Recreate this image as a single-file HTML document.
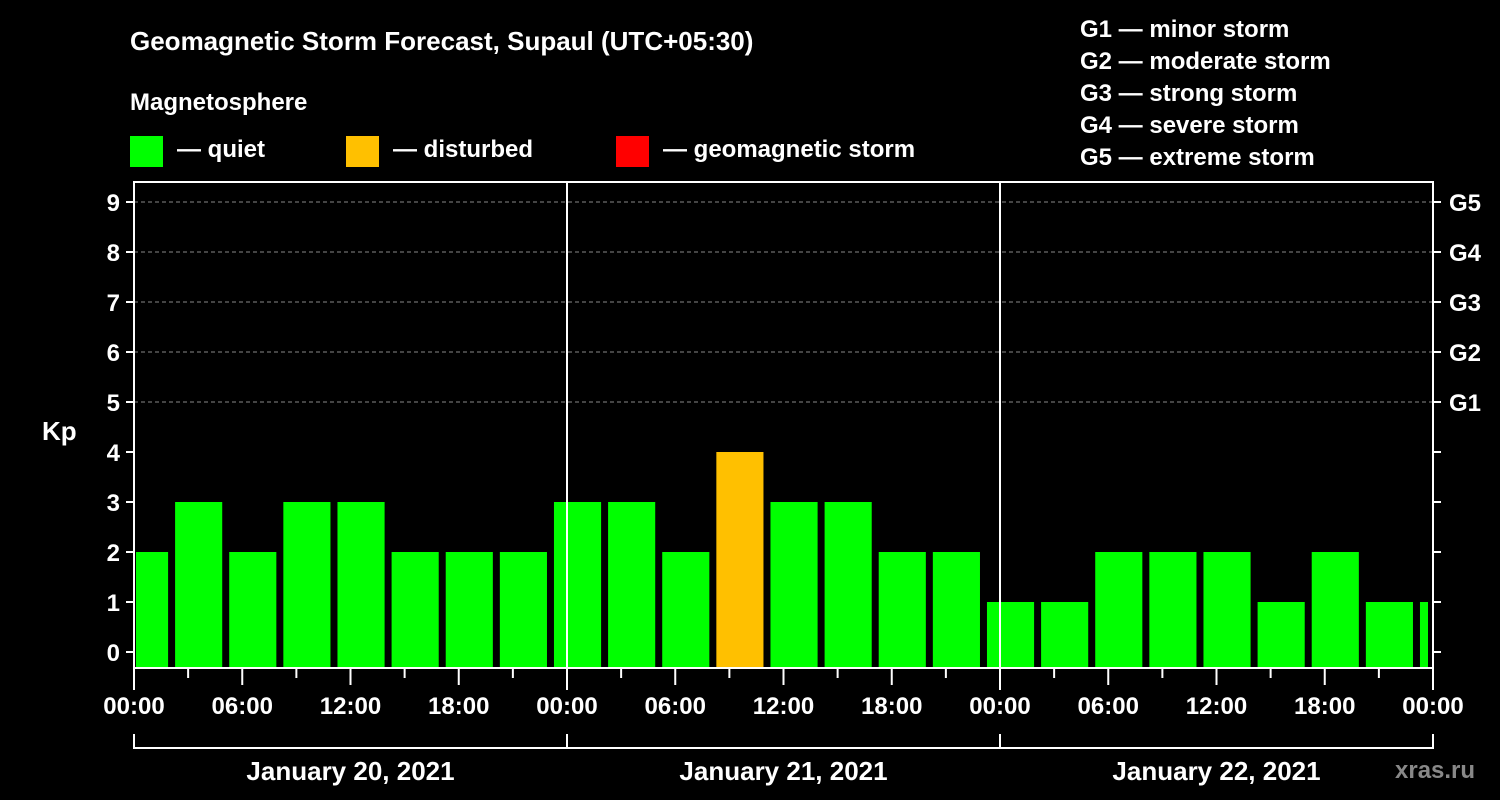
<!DOCTYPE html>
<html><head><meta charset="utf-8"><style>
body{margin:0;background:#000;width:1500px;height:800px;overflow:hidden}
svg{display:block;font-family:"Liberation Sans",Arial,sans-serif;font-weight:bold}
</style></head><body>
<svg id="c" width="1500" height="800">
<text x="130" y="50" fill="#fff" font-size="26">Geomagnetic Storm Forecast, Supaul (UTC+05:30)</text>
<text x="130" y="110" fill="#fff" font-size="24">Magnetosphere</text>
<rect x="130" y="136" width="33" height="31" fill="#00ff00"/>
<text x="177" y="157" fill="#fff" font-size="24">— quiet</text>
<rect x="346" y="136" width="33" height="31" fill="#ffc000"/>
<text x="393" y="157" fill="#fff" font-size="24">— disturbed</text>
<rect x="616" y="136" width="33" height="31" fill="#ff0000"/>
<text x="663" y="157" fill="#fff" font-size="24">— geomagnetic storm</text>
<g fill="#fff" font-size="24">
<text x="1080" y="37">G1 — minor storm</text>
<text x="1080" y="69">G2 — moderate storm</text>
<text x="1080" y="101">G3 — strong storm</text>
<text x="1080" y="133">G4 — severe storm</text>
<text x="1080" y="165">G5 — extreme storm</text>
</g>
<text x="42" y="440" fill="#fff" font-size="26">Kp</text>
<text x="1395" y="778" fill="#888" font-size="24">xras.ru</text>
<g id="g"></g>
</svg>
<script>
const kpValues=[2,3,2,3,3,2,2,2, 3,3,2,4,3,3,2,2, 1,1,2,2,2,1,2,1,1];
const firstBarHour=-0.833;
const barHours=3;
const xTickLabels=["00:00","06:00","12:00","18:00","00:00","06:00","12:00","18:00","00:00","06:00","12:00","18:00","00:00"];
const dayLabels=["January 20, 2021","January 21, 2021","January 22, 2021"];
const yTicks=[0,1,2,3,4,5,6,7,8,9];
const gLabels=["G1","G2","G3","G4","G5"];

const X0=134,X1=1433,TOP=182,BOT=668;
const x=h=>X0+(X1-X0)*h/72;
const y=v=>652-50*v;
const NS="http://www.w3.org/2000/svg";
const g=document.getElementById('g');
function mk(t,a,txt){const e=document.createElementNS(NS,t);for(const k in a)e.setAttribute(k,a[k]);if(txt!=null)e.textContent=txt;g.appendChild(e);return e;}
// grid
for(let v=5;v<=9;v++){const e=mk('line',{x1:X0,x2:X1,y1:y(v),y2:y(v),stroke:'#888','stroke-dasharray':'4,3','stroke-width':1});

}
// bars
kpValues.forEach((v,i)=>{
 let s=x(firstBarHour+barHours*i)+2,e=x(firstBarHour+barHours*(i+1))-5;
 s=Math.max(s,X0+2);e=Math.min(e,X1-5);
 const col=v>=5?'#ff0000':(v>=4?'#ffc000':'#00ff00');
 const r=mk('rect',{x:s,y:y(v),width:e-s,height:BOT-y(v),fill:col});
 
 
});
// day separators
[24,48].forEach(h=>{const e=mk('line',{x1:x(h),x2:x(h),y1:TOP,y2:BOT,stroke:'#fff','stroke-width':2});

});
// frame
const fr=mk('rect',{x:X0,y:TOP,width:X1-X0,height:BOT-TOP,fill:'none',stroke:'#fff','stroke-width':2});


// y ticks
yTicks.forEach(v=>{
 mk('line',{x1:X0-8,x2:X0,y1:y(v),y2:y(v),stroke:'#fff','stroke-width':2});
 mk('line',{x1:X1,x2:X1+8,y1:y(v),y2:y(v),stroke:'#fff','stroke-width':2});
 const t=mk('text',{x:X0-14,y:y(v)+9,fill:'#fff','font-size':24,'text-anchor':'end'},v);
 
 
});
gLabels.forEach((l,i)=>{const t=mk('text',{x:X1+16,y:y(5+i)+9,fill:'#fff','font-size':24},l);

});
// x ticks
for(let h=0;h<=72;h+=3){const major=h%6===0;
 mk('line',{x1:x(h),x2:x(h),y1:BOT,y2:BOT+(h%24===0?22:(major?17:10)),stroke:'#fff','stroke-width':2});}
xTickLabels.forEach((l,i)=>{const t=mk('text',{x:x(i*6),y:714,fill:'#fff','font-size':24,'text-anchor':'middle'},l);

});
// date bracket
mk('line',{x1:x(0),x2:x(72),y1:748,y2:748,stroke:'#fff','stroke-width':2});
[0,24,48,72].forEach(h=>mk('line',{x1:x(h),x2:x(h),y1:734,y2:749,stroke:'#fff','stroke-width':2}));
dayLabels.forEach((l,i)=>{const t=mk('text',{x:x(i*24+12),y:780,fill:'#fff','font-size':26,'text-anchor':'middle'},l);

});
</script>
</body></html>
